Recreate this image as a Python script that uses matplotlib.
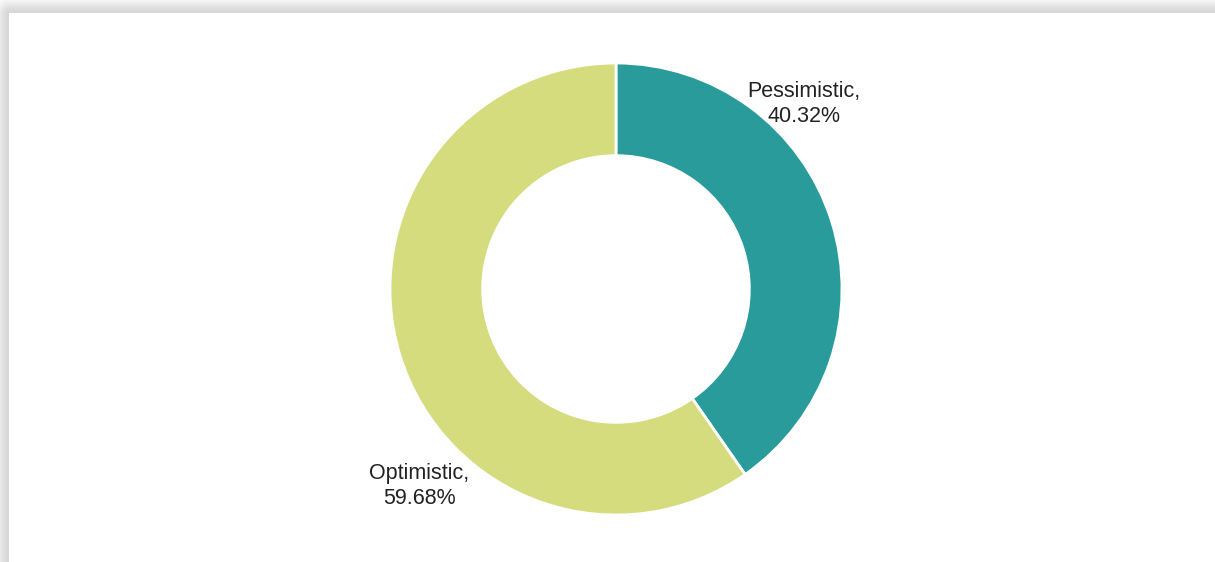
import numpy as np
import matplotlib
matplotlib.use("Agg")
import matplotlib.pyplot as plt

labels = ["Pessimistic", "Optimistic"]
shares = [40.32, 59.68]
colors = ["#299b9b", "#d5dc7e"]

W, H = 1215, 562
fig = plt.figure(figsize=(W / 100, H / 100), dpi=100)
fig.patch.set_facecolor("white")

# card with a soft drop shadow on its top and left edges
bg = fig.add_axes([0, 0, 1, 1])
bg.set_axis_off()
yy, xx = np.mgrid[0:H, 0:W]
card_x0, card_y0 = 9, 13
dx = np.clip(card_x0 - xx, 0, None)
dy = np.clip(card_y0 - yy, 0, None)
d = np.hypot(dx, dy)
outside = (xx < card_x0) | (yy < card_y0)
shade = np.where(outside, 40 * np.exp(-(d ** 2) / (2 * 8.0 ** 2)), 0)
img = (255 - shade) / 255.0
bg.imshow(np.dstack([img, img, img]), extent=[0, W, H, 0], aspect="auto",
          interpolation="bilinear")
bg.set_xlim(0, W)
bg.set_ylim(H, 0)

# donut chart
cx, cy, r = 616, 289, 226
ax = fig.add_axes([(cx - r) / W, (H - cy - r) / H, 2 * r / W, 2 * r / H])
ax.set_axis_off()
wedges, _ = ax.pie(shares, colors=colors, startangle=90, counterclock=False,
                   radius=1.0,
                   wedgeprops=dict(width=0.41, edgecolor="white", linewidth=2))
ax.set_xlim(-1, 1)
ax.set_ylim(-1, 1)
ax.set_aspect("equal")

label_pos = [(0.83, 0.82), (-0.87, -0.87)]
for lab, val, (lx, ly) in zip(labels, shares, label_pos):
    ax.text(lx, ly, f"{lab},\n{val:.2f}%", ha="center", va="center",
            fontsize=15.5, color="#222222", family="Liberation Sans",
            linespacing=1.25, clip_on=False)

fig.savefig("out.png", dpi=100, facecolor="white")
